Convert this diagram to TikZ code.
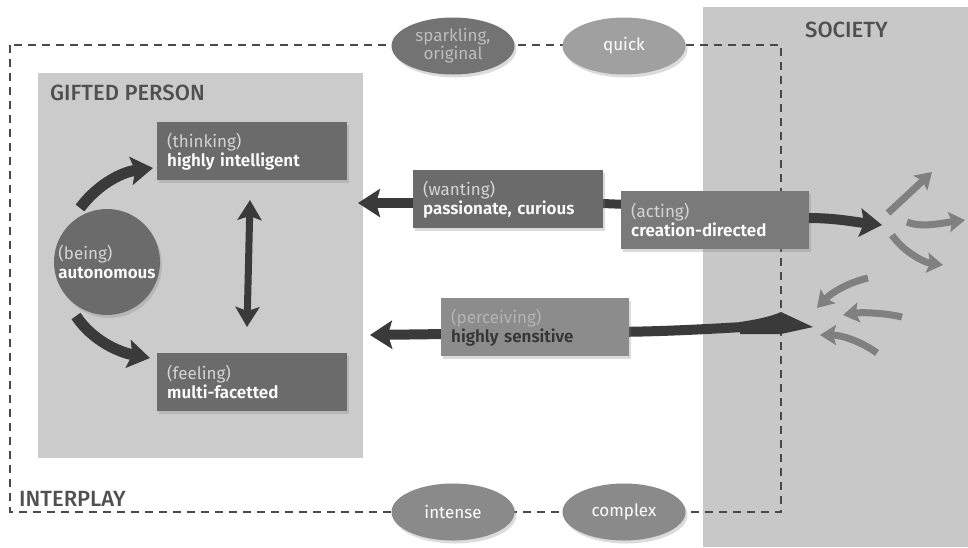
\documentclass[tikz,border=0pt]{standalone}
\usepackage{fontspec}
\setmainfont{Fira Sans}[BoldFont={Fira Sans SemiBold}]
\newfontfamily\headfont{Fira Sans Medium}
\usetikzlibrary{arrows.meta,shapes.geometric,shadows}
\definecolor{areagray}{HTML}{CBCBCB}
\definecolor{socgray}{HTML}{C8C8C8}
\definecolor{boxdark}{HTML}{6B6B6B}
\definecolor{boxmid}{HTML}{7A7A7A}
\definecolor{boxlight}{HTML}{8C8C8C}
\definecolor{arrowc}{HTML}{3A3A3A}
\definecolor{arrowlight}{HTML}{808080}
\definecolor{dashc}{HTML}{4A4A4A}
\definecolor{headc}{HTML}{505050}
\definecolor{lighttxt}{HTML}{D4D4D4}
\definecolor{perctxt}{HTML}{B4B4B4}
\definecolor{darktxt}{HTML}{353535}
\definecolor{ellA}{HTML}{737373}
\definecolor{ellB}{HTML}{A0A0A0}
\definecolor{ellC}{HTML}{8A8A8A}
\definecolor{ellAtxt}{HTML}{BDBDBD}
\tikzset{
  boxshadow/.style={drop shadow={opacity=0.28,shadow xshift=2pt,shadow yshift=-3pt}},
  infobox/.style={rectangle, anchor=north west, fill=#1, boxshadow, text=white,
    inner xsep=10pt, inner ysep=0pt, text width=170pt, minimum height=58pt, align=left,
    font=\fontsize{17}{19}\selectfont},
  heading/.style={text=headc, font=\headfont\fontsize{22}{24}\selectfont, inner sep=0pt},
  ellnode/.style={ellipse, fill=#1, boxshadow, minimum width=123pt, minimum height=57pt,
    inner sep=0pt, align=center, font=\fontsize{17}{18}\selectfont},
  fatarrow/.style={draw=arrowc, line width=10pt,
    -{Stealth[length=22pt,width=28pt,inset=4pt]}},
  fatline/.style={draw=arrowc, line width=9pt},
  dblarrow/.style={draw=arrowc, line width=7pt,
    {Stealth[length=20pt,width=24pt,inset=4pt]}-{Stealth[length=20pt,width=24pt,inset=4pt]}},
  smallarrow/.style={draw=arrowlight, line width=7pt,
    -{Stealth[length=16pt,width=20pt,inset=3pt]}},
  dashframe/.style={draw=dashc, line width=2.4pt, dash pattern=on 8pt off 6pt}
}
\begin{document}
\begin{tikzpicture}[x=1pt,y=-1pt]
\useasboundingbox[fill=white] (0,0) rectangle (968,547);
% areas
\fill[socgray] (703,7) rectangle (968,547);
\fill[areagray] (38,73) rectangle (363,458);
\node[heading, anchor=west] (hsoc) at (805,30) {SOCIETY};
\node[heading, anchor=west] (hgift) at (50,93) {GIFTED PERSON};
% interplay frame
\draw[dashframe] (10,45) rectangle (781,512);
\node[heading, anchor=west] (hinter) at (19,499) {INTERPLAY};
% ellipses
\node[ellnode=ellA, text=ellAtxt] (sparkling) at (453,46) {sparkling,\\original};
\node[ellnode=ellB, text=white] (quick) at (624,46) {quick};
\node[ellnode=ellC, text=white] (intense) at (453,512) {intense};
\node[ellnode=ellC, text=white] (complex) at (624,512) {complex};
% coordinates for free ends
\coordinate (wtip) at (358,203);
\coordinate (atail) at (809,218);
\coordinate (atip) at (882,225);
\coordinate (ptail) at (790,324);
\coordinate (ptip) at (370,335);
% long arrows behind boxes
\draw[fatline] (640,205) -- (590,203);
\draw[fatarrow] (510,203) -- (wtip);
\draw[fatarrow] (ptail) .. controls (700,330) and (650,332) .. (600,332) -- (ptip);
\fill[arrowc] (740,322) .. controls (760,319) and (772,316) .. (781,312) -- (813,327)
  -- (781,334) .. controls (770,334) and (755,334) .. (740,334) -- cycle;
% boxes
\node[infobox=boxdark] (thinking) at (157,122) {{\color{lighttxt}(thinking)}\\\textbf{highly intelligent}};
\node[infobox=boxdark] (feeling) at (157,353) {{\color{lighttxt}(feeling)}\\\textbf{multi-facetted}};
\node[infobox=boxdark] (wanting) at (413,170) {{\color{lighttxt}(wanting)}\\\textbf{passionate, curious}};
\node[infobox=boxmid, text width=168pt] (acting) at (621,191) {{\color{lighttxt}(acting)}\\\textbf{creation-directed}};
\node[infobox=boxlight, text width=168pt, text=darktxt] (perceiving) at (441,298) {{\color{perctxt}(perceiving)}\\\textbf{highly sensitive}};
\node[circle, fill=boxdark, boxshadow, minimum size=106pt, inner sep=0pt, text=white,
  align=left, font=\fontsize{17}{19}\selectfont] (being) at (107,262)
  {{\color{lighttxt}(being)}\\\textbf{autonomous}};
% arrows in gifted person
\coordinate (b1) at (80,208);
\coordinate (t1) at (153,168);
\coordinate (b2) at (76,316);
\coordinate (f1) at (150,358);
\draw[fatarrow, line width=11pt] (b1) .. controls (98,184) and (122,172) .. (t1);
\draw[fatarrow, line width=11pt] (b2) .. controls (92,340) and (118,352) .. (f1);
\coordinate (dt) at (250,200);
\coordinate (db) at (247,327);
\draw[dblarrow] (dt) -- (db);
% acting to society
\draw[fatarrow] (atail) .. controls (835,218) and (855,222) .. (atip);
% society scattered arrows
\draw[smallarrow] (888,213) .. controls (900,202) and (915,188) .. (932,172);
\draw[smallarrow] (907,222) .. controls (922,228) and (942,223) .. (965,220);
\draw[smallarrow] (892,235) .. controls (902,250) and (922,262) .. (943,265);
\draw[smallarrow] (868,278) .. controls (850,282) and (832,292) .. (817,308);
\draw[smallarrow] (902,317) .. controls (885,313) and (862,312) .. (843,315);
\draw[smallarrow] (877,353) .. controls (862,342) and (842,335) .. (820,335);
\end{tikzpicture}
\end{document}
